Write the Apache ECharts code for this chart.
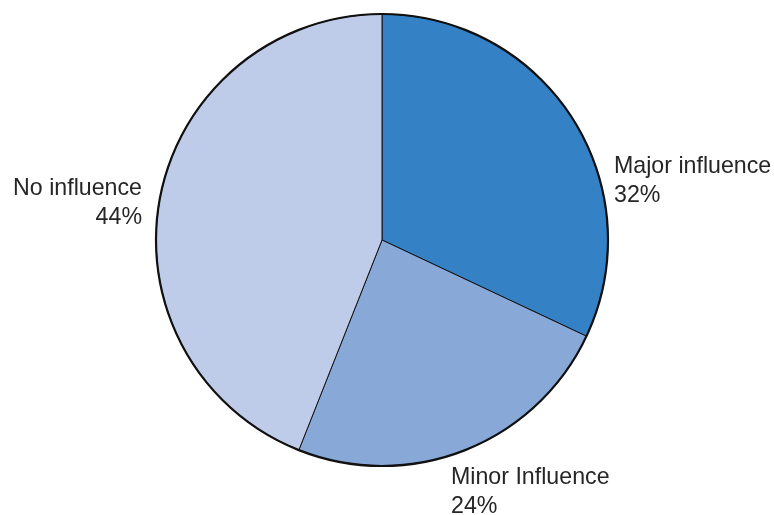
<!DOCTYPE html>
<html>
<head>
<meta charset="utf-8">
<script src="https://cdn.jsdelivr.net/npm/echarts@6/dist/echarts.min.js"></script>
<style>html,body{margin:0;padding:0;background:#fff}#c{width:774px;height:515px}</style>
</head>
<body>
<div id="c"></div>
<script>
const categories = ["Major influence", "Minor Influence", "No influence"];
const values = [32, 24, 44];
const colors = ["#3481C5", "#88A8D8", "#BFCCE9"];

const labelPos = [
  {x: 614, y: 181, align: "left"},
  {x: 451, y: 492, align: "left"},
  {x: 142, y: 203, align: "right"}
];

const chart = echarts.init(document.getElementById("c"), null, {renderer: "canvas"});
const center = [382, 240];
const radius = 226;
chart.setOption({
  animation: false,
  series: [
    {
      type: "pie",
      center: center,
      radius: radius,
      startAngle: 90,
      clockwise: true,
      silent: true,
      data: categories.map((c, i) => ({name: c, value: values[i], itemStyle: {color: colors[i]}})),
      itemStyle: {borderColor: "#111", borderWidth: 1},
      label: {
        show: true,
        position: "outside",
        overflow: "none",
        formatter: p => p.name + "\n" + p.value + "%",
        fontFamily: "Liberation Sans, Helvetica, Arial, sans-serif",
        fontSize: 23.2,
        lineHeight: 29,
        color: "#262626"
      },
      labelLine: {show: false},
      labelLayout: function (params) {
        const p = labelPos[params.dataIndex];
        return {x: p.x, y: p.y, align: p.align, verticalAlign: "middle", hideOverlap: false};
      }
    },
    {
      type: "pie",
      center: center,
      radius: radius,
      silent: true,
      data: [{value: 1, itemStyle: {color: "rgba(0,0,0,0)"}}],
      itemStyle: {borderColor: "#111", borderWidth: 2.2},
      label: {show: false},
      labelLine: {show: false}
    }
  ]
});
</script>
</body>
</html>
